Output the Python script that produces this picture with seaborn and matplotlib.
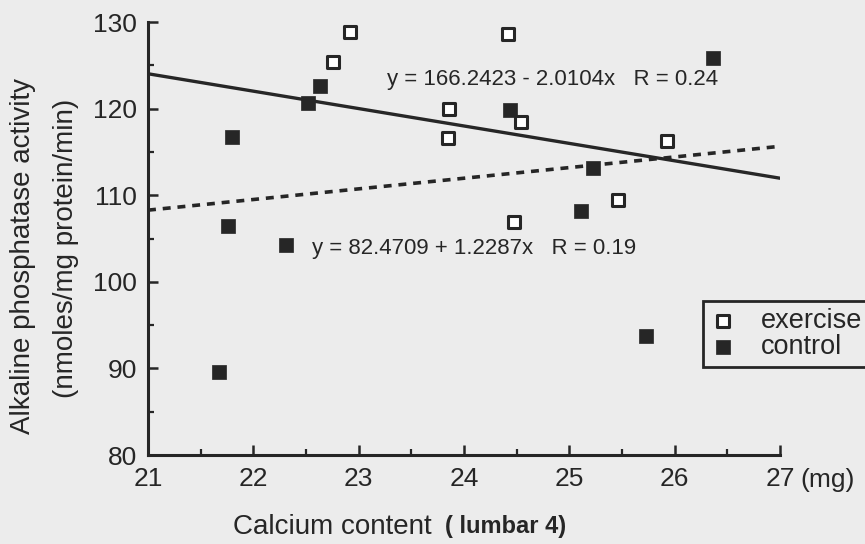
import numpy as np
import pandas as pd
import matplotlib
matplotlib.use("Agg")
import matplotlib.pyplot as plt
import seaborn as sns
from matplotlib.ticker import MultipleLocator

# ---- data ----
exercise_x = [22.92, 22.76, 24.42, 23.86, 23.85, 24.54, 24.47, 25.93, 25.46]
exercise_y = [128.8, 125.4, 128.6, 120.0, 116.6, 118.5, 106.9, 116.3, 109.5]
control_x = [21.80, 22.63, 22.52, 24.44, 21.76, 22.31, 21.67, 25.11, 26.36, 25.22, 25.73]
control_y = [116.7, 122.6, 120.7, 119.8, 106.4, 104.3, 89.6, 108.2, 125.9, 113.1, 93.7]

fit_names = ["solid", "dashed"]
fit_intercepts = [166.2423, 82.4709]
fit_slopes = [-2.0104, 1.2287]
fit_labels = ["y = 166.2423 - 2.0104x   R = 0.24", "y = 82.4709 + 1.2287x   R = 0.19"]
fit_range = [21, 27]

x_ticks = [21, 22, 23, 24, 25, 26, 27]
y_ticks = [80, 90, 100, 110, 120, 130]

BG = "#ececec"
INK = "#262626"

sns.set_theme(style="ticks")
plt.rcParams["font.family"] = ["Liberation Sans", "DejaVu Sans"]

fig = plt.figure(figsize=(8.65, 5.44), dpi=100, facecolor=BG)
ax = fig.add_axes([148 / 865, 1 - 455 / 544, (780 - 148) / 865, (455 - 22) / 544])
ax.set_facecolor(BG)

# regression lines
rows = []
for name, b0, b1 in zip(fit_names, fit_intercepts, fit_slopes):
    for xv in fit_range:
        rows.append({"fit": name, "x": xv, "y": b0 + b1 * xv})
fits = pd.DataFrame(rows)
sns.lineplot(data=fits[fits.fit == "solid"], x="x", y="y", ax=ax, color=INK,
             linewidth=2.4, legend=False)
sns.lineplot(data=fits[fits.fit == "dashed"], x="x", y="y", ax=ax, color=INK,
             linewidth=2.6, dashes=False, legend=False)
ax.lines[-1].set_linestyle((0, (2.2, 1.9)))

ex = pd.DataFrame({"x": exercise_x, "y": exercise_y})
co = pd.DataFrame({"x": control_x, "y": control_y})
sns.scatterplot(data=ex, x="x", y="y", ax=ax, marker="s", s=75,
                facecolor="white", edgecolor=INK, linewidth=2.2, label="exercise", zorder=3)
sns.scatterplot(data=co, x="x", y="y", ax=ax, marker="s", s=110,
                color=INK, edgecolor=INK, linewidth=0.5, label="control", zorder=3)

ax.set_xlim(21, 27)
ax.set_ylim(80, 130)
ax.set_xticks(x_ticks)
ax.set_yticks(y_ticks)
ax.xaxis.set_minor_locator(MultipleLocator(0.5))
ax.yaxis.set_minor_locator(MultipleLocator(5))
ax.tick_params(which="major", direction="in", length=7, width=1.8, color=INK,
               labelsize=19, labelcolor=INK)
ax.tick_params(which="minor", direction="in", length=4.5, width=1.6, color=INK)
ax.tick_params(axis="x", which="major", pad=9)
ax.tick_params(axis="y", which="major", pad=8)
for s in ["top", "right"]:
    ax.spines[s].set_visible(False)
for s in ["left", "bottom"]:
    ax.spines[s].set_linewidth(2.2)
    ax.spines[s].set_color(INK)
ax.set_xlabel("")
ax.set_ylabel("")

# fit equations
ax.text(23.27, 123.4, fit_labels[0], fontsize=16, color=INK, va="center", ha="left")
ax.text(22.56, 103.8, fit_labels[1], fontsize=16, color=INK, va="center", ha="left")

# units
fig.text(800 / 865, 1 - 480 / 544, "(mg)", fontsize=19, color=INK, va="center", ha="left")

# axis labels
fig.text(233 / 865, 1 - 527 / 544, "Calcium content", fontsize=20, color=INK,
         va="center", ha="left")
fig.text(445 / 865, 1 - 527 / 544, "( lumbar 4)", fontsize=17, color=INK,
         va="center", ha="left", fontweight="bold")
fig.text(23 / 865, 1 - 256 / 544, "Alkaline phosphatase activity", fontsize=20,
         color=INK, rotation=90, va="center", ha="center")
fig.text(66 / 865, 1 - 248 / 544, "(nmoles/mg protein/min)", fontsize=20,
         color=INK, rotation=90, va="center", ha="center")

leg = ax.legend(loc="upper left", bbox_to_anchor=(703 / 865, 1 - 301 / 544),
                bbox_transform=fig.transFigure, frameon=True, fontsize=19.5,
                handletextpad=0.9, borderpad=0.25, labelspacing=0.02,
                handlelength=1.0, borderaxespad=0)
leg.get_frame().set_edgecolor(INK)
leg.get_frame().set_linewidth(2.0)
leg.get_frame().set_facecolor(BG)
leg.get_frame().set_alpha(1)
leg.get_frame().set_boxstyle("square", pad=0)
for t in leg.get_texts():
    t.set_color(INK)

fig.savefig("out.png", dpi=100, facecolor=BG)
